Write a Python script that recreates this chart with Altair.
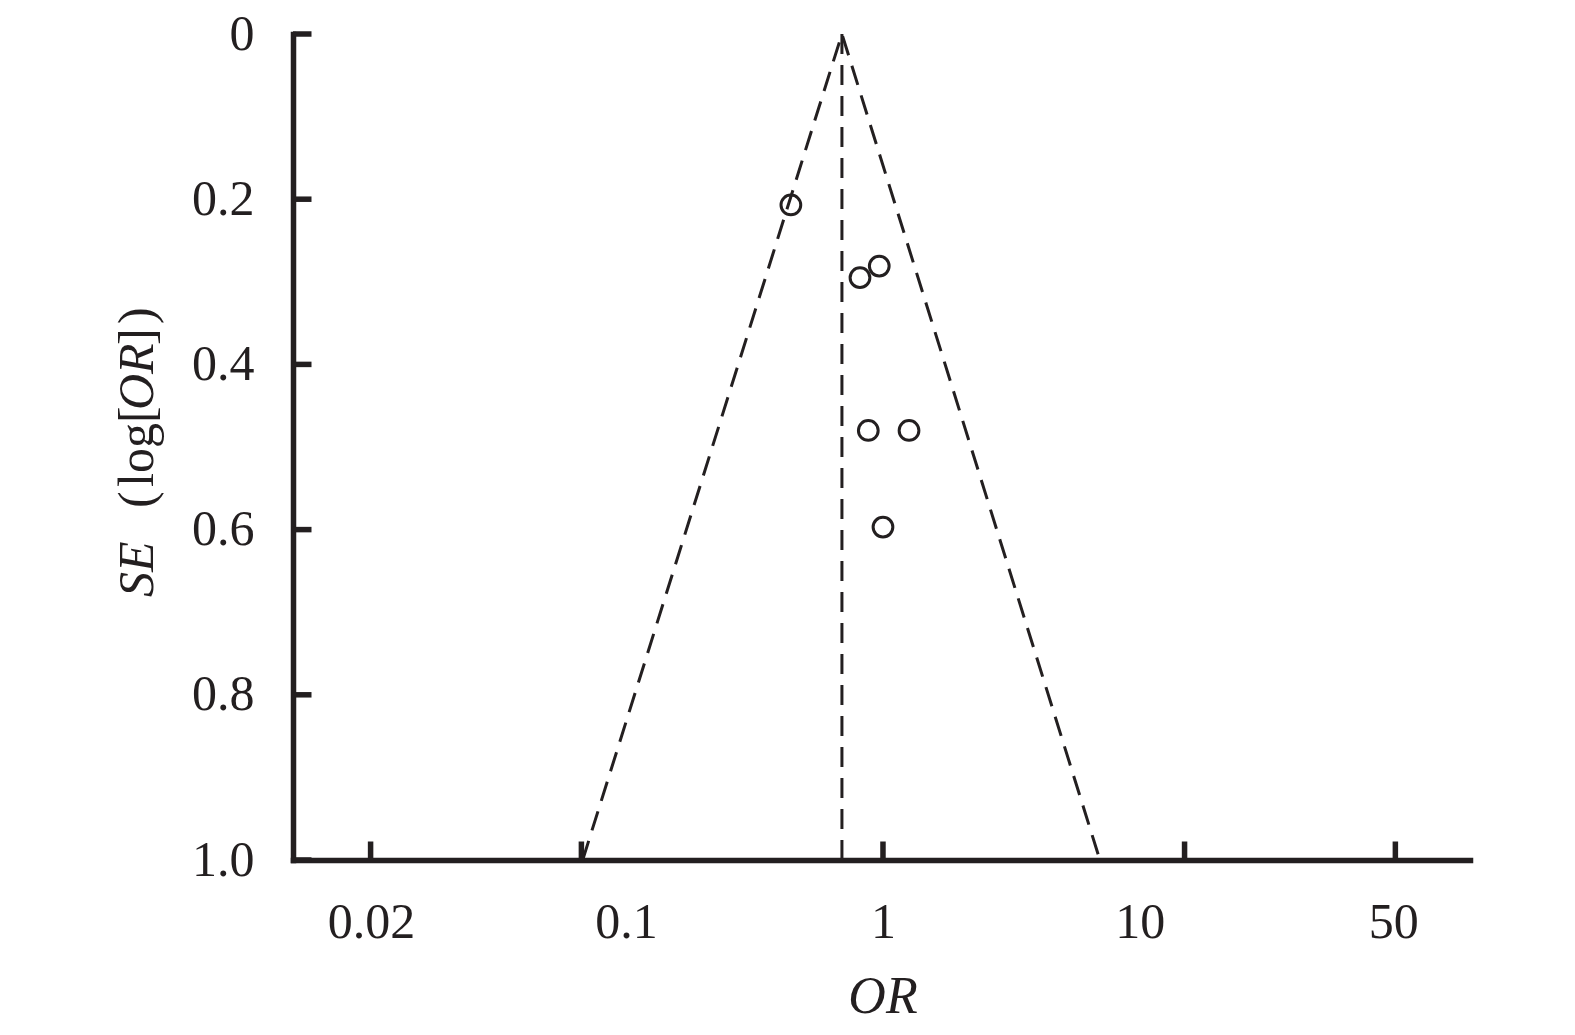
import altair as alt
import pandas as pd

# Study estimates
study_or = [0.495, 0.839, 0.972, 0.894, 1.22, 1.00]
study_se = [0.207, 0.295, 0.281, 0.480, 0.480, 0.597]

# Funnel (pseudo 95% CI)
funnel_or = [0.101, 0.731, 5.24]
funnel_se = [1.0, 0.0, 1.0]
pooled_or = 0.731

x_ticks = [0.02, 0.1, 1, 10, 50]
# the reference prints its x labels evenly spaced, offset from the log ticks
x_label_shift = [0.5, 44.5, 0, -44.7, -2]
y_ticks = [0.0, 0.2, 0.4, 0.6, 0.8, 1.0]

W, H = 1177, 826
INK = "#231f20"
FONT = "Liberation Serif"

pts = pd.DataFrame({"OR": study_or, "SE": study_se})
fun = pd.DataFrame({"OR": funnel_or, "SE": funnel_se, "k": [0, 1, 2]})
ctr = pd.DataFrame({"OR": [pooled_or, pooled_or], "SE": [0.0, 1.0], "k": [0, 1]})
xt = pd.DataFrame({"OR": x_ticks})
yt = pd.DataFrame({"SE": y_ticks})

xscale = alt.Scale(type="log", domain=[0.01106, 88.4], nice=False)
yscale = alt.Scale(domain=[0, 1], reverse=True, nice=False, zero=False)

label_offset = {
    "condition": [{"test": f"datum.value == {v}", "value": s}
                  for v, s in zip(x_ticks, x_label_shift)],
    "value": 0,
}

xaxis = alt.Axis(values=x_ticks, labelExpr="'' + datum.value", title=None,
                 grid=False, ticks=False, tickSize=0, domainWidth=5.5, domainColor=INK,
                 domainCap="square", labelFont=FONT, labelFontSize=50, labelColor=INK,
                 labelPadding=37, labelFlush=False, labelOffset=label_offset)
yaxis = alt.Axis(values=y_ticks,
                 labelExpr="datum.value == 0 ? '0' : format(datum.value, '.1f')",
                 title=None, grid=False, ticks=False, tickSize=0, domainWidth=5.5,
                 domainColor=INK, domainCap="square", labelFont=FONT, labelFontSize=50,
                 labelColor=INK, labelPadding=39, labelFlush=False)

points = alt.Chart(pts).mark_point(shape="circle", filled=False, size=390,
                                    strokeWidth=3, color=INK, opacity=1).encode(
    x=alt.X("OR:Q", scale=xscale, axis=xaxis),
    y=alt.Y("SE:Q", scale=yscale, axis=yaxis),
)

funnel = alt.Chart(fun).mark_line(color=INK, strokeWidth=3, strokeDash=[20, 11]).encode(
    x=alt.X("OR:Q", scale=xscale), y=alt.Y("SE:Q", scale=yscale), order="k:Q")

center = alt.Chart(ctr).mark_line(color=INK, strokeWidth=3, strokeDash=[20, 11]).encode(
    x=alt.X("OR:Q", scale=xscale), y=alt.Y("SE:Q", scale=yscale), order="k:Q")

xtick_marks = alt.Chart(xt).mark_rule(color=INK, strokeWidth=5.5).encode(
    x=alt.X("OR:Q", scale=xscale), y=alt.value(H), y2=alt.value(H - 18.5))

ytick_marks = alt.Chart(yt).mark_rule(color=INK, strokeWidth=5.5).encode(
    y=alt.Y("SE:Q", scale=yscale), x=alt.value(0), x2=alt.value(18.5))

# y-axis title pieces (mixed italic), rotated
ytitle_parts = [
    ("SE", "italic", 563),
    ("(", "normal", 474),
    ("log[", "normal", 453),
    ("OR", "italic", 376),
    ("]", "normal", 311),
    (")", "normal", 290),
]
ytitle_layers = []
for txt, style, ypos in ytitle_parts:
    ytitle_layers.append(
        alt.Chart(pd.DataFrame({"t": [txt]})).mark_text(
            font=FONT, fontSize=50, fontStyle=style, color=INK, angle=270,
            align="left", baseline="alphabetic").encode(
            text="t:N", x=alt.value(-140), y=alt.value(ypos))
    )

xtitle = alt.Chart(pd.DataFrame({"t": ["OR"]})).mark_text(
    font=FONT, fontSize=52, fontStyle="italic", color=INK, align="center",
    baseline="alphabetic").encode(text="t:N", x=alt.value(590), y=alt.value(979))

chart = alt.layer(points, funnel, center, xtick_marks, ytick_marks, xtitle,
                  *ytitle_layers).properties(
    width=W, height=H,
    autosize=alt.AutoSizeParams(type="none"),
    padding={"left": 285, "top": 26, "right": 60, "bottom": 175},
).configure(background="white").configure_view(strokeWidth=0, stroke=None)

chart.save("out.html", embed_options={"renderer": "svg", "actions": False})
